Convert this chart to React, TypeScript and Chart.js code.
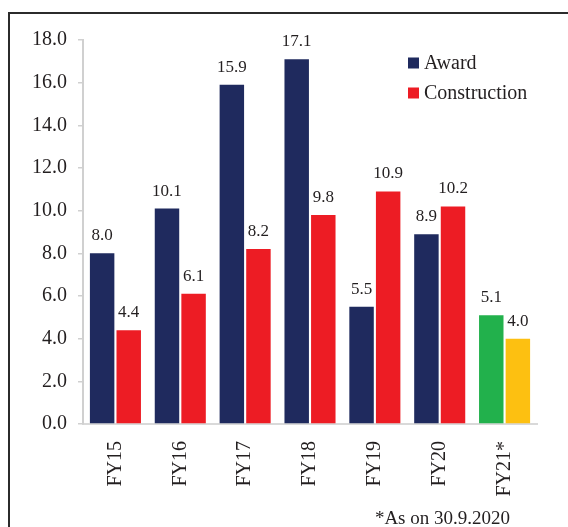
import React, { useEffect, useRef } from "react";
import { Chart, registerables } from "chart.js";

Chart.register(...registerables);

const categories = ["FY15", "FY16", "FY17", "FY18", "FY19", "FY20", "FY21*"];
const awardValues = [8.0, 10.1, 15.9, 17.1, 5.5, 8.9, 5.1];
const constructionValues = [4.4, 6.1, 8.2, 9.8, 10.9, 10.2, 4.0];
const seriesNames = ["Award", "Construction"];
const footnote = "*As on 30.9.2020";

const NAVY = "#1F2A5E";
const RED = "#ED1C24";
const GREEN = "#22B14C";
const AMBER = "#FDC011";
const TEXT = "#231F20";
const FONT = "'Liberation Serif', 'Times New Roman', serif";

const awardColors = categories.map((_, i) => (i === categories.length - 1 ? GREEN : NAVY));
const constructionColors = categories.map((_, i) => (i === categories.length - 1 ? AMBER : RED));

const overlayPlugin = {
  id: "overlay",
  afterDatasetsDraw(chart: any) {
    const ctx = chart.ctx;
    ctx.save();
    // value labels
    ctx.font = `17px ${FONT}`;
    ctx.fillStyle = TEXT;
    ctx.textAlign = "center";
    ctx.textBaseline = "alphabetic";
    chart.data.datasets.forEach((ds: any, di: number) => {
      const meta = chart.getDatasetMeta(di);
      meta.data.forEach((bar: any, i: number) => {
        const v = ds.data[i];
        ctx.fillText(v.toFixed(1), bar.x, bar.y - 13);
      });
    });
    // legend
    const legendColors = [NAVY, RED];
    ctx.font = `20px ${FONT}`;
    ctx.textAlign = "left";
    ctx.textBaseline = "middle";
    seriesNames.forEach((name, i) => {
      const cy = 63 + i * 30;
      ctx.fillStyle = legendColors[i];
      ctx.fillRect(408, cy - 5.5, 11, 11);
      ctx.fillStyle = TEXT;
      ctx.fillText(name, 424, cy + 1);
    });
    // footnote
    ctx.font = `19px ${FONT}`;
    ctx.textAlign = "right";
    ctx.textBaseline = "alphabetic";
    ctx.fillStyle = TEXT;
    ctx.fillText(footnote, 510, 524);
    ctx.restore();
  },
};

export default function App() {
  const canvasRef = useRef<HTMLCanvasElement | null>(null);

  useEffect(() => {
    if (!canvasRef.current) return;
    const chart = new Chart(canvasRef.current, {
      type: "bar",
      data: {
        labels: categories,
        datasets: [
          {
            label: seriesNames[0],
            data: awardValues,
            backgroundColor: awardColors,
            categoryPercentage: 0.82,
            barPercentage: 0.92,
          },
          {
            label: seriesNames[1],
            data: constructionValues,
            backgroundColor: constructionColors,
            categoryPercentage: 0.82,
            barPercentage: 0.92,
          },
        ],
      },
      options: {
        animation: false,
        responsive: false,
        maintainAspectRatio: false,
        devicePixelRatio: 1,
        layout: { padding: { left: 0, right: 31, top: 40, bottom: 0 } },
        plugins: {
          legend: { display: false },
          tooltip: { enabled: false },
        },
        scales: {
          x: {
            grid: { display: false },
            border: { display: true, color: "#D9D9D9", width: 2 },
            ticks: {
              color: TEXT,
              font: { family: FONT, size: 20 },
              minRotation: 90,
              maxRotation: 90,
              padding: 9,
              autoSkip: false,
            },
            afterFit: (scale: any) => {
              scale.height = 103;
            },
          },
          y: {
            min: 0,
            max: 18,
            grid: {
              drawOnChartArea: false,
              drawTicks: true,
              tickLength: 5,
              color: "#D0D0D0",
              lineWidth: 1.5,
            },
            border: { display: true, color: "#D0D0D0", width: 2 },
            ticks: {
              stepSize: 2,
              color: TEXT,
              font: { family: FONT, size: 20 },
              padding: 11,
              callback: (v: any) => Number(v).toFixed(1),
            },
            afterFit: (scale: any) => {
              scale.width = 83;
            },
          },
        },
      },
      plugins: [overlayPlugin],
    });
    return () => chart.destroy();
  }, []);

  return (
    <div
      style={{
        position: "fixed",
        left: 0,
        top: 0,
        width: 568,
        height: 527,
        overflow: "hidden",
        background: "#fff",
      }}
    >
      <div
        style={{
          position: "absolute",
          left: 8,
          top: 12,
          width: 700,
          height: 700,
          borderLeft: "2px solid #2B2B2B",
          borderTop: "2px solid #2B2B2B",
        }}
      />
      <canvas
        ref={canvasRef}
        width={568}
        height={527}
        style={{ position: "absolute", left: 0, top: 0, width: 568, height: 527 }}
      />
    </div>
  );
}
